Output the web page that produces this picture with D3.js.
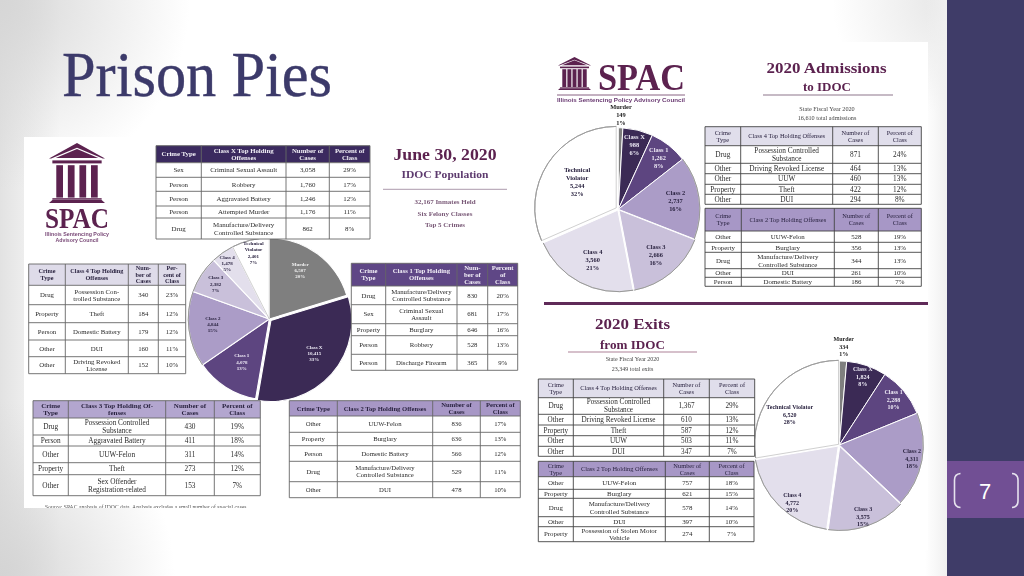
<!DOCTYPE html>
<html><head><meta charset="utf-8">
<script src="https://cdn.jsdelivr.net/npm/d3@7/dist/d3.min.js"></script>
<style>html,body{margin:0;padding:0;background:#fff;overflow:hidden}svg{display:block}</style>
</head><body><svg id="c" width="1024" height="576" viewBox="0 0 1024 576"></svg>
<script>
// ---------- DATA ----------
const classes = ["Murder","Class X","Class 1","Class 2","Class 3","Class 4","Technical Violator"];
const populationCases = [6507,10415,4078,4844,2382,1478,2401];
const populationPct = ["20%","33%","13%","15%","7%","5%","7%"];
const admissionCases = [149,988,1262,2737,2666,3560,5244];
const admissionPct = ["1%","6%","8%","16%","16%","21%","32%"];
const exitCases = [334,1824,2288,4311,3575,4772,6520];
const exitPct = ["1%","8%","10%","18%","15%","20%","28%"];

const headClassX = ["Crime Type","Class X Top Holding\nOffenses","Number of\nCases","Percent of\nClass"];
const rowsClassX = [["Sex","Criminal Sexual Assault","3,058","29%"],["Person","Robbery","1,760","17%"],["Person","Aggravated Battery","1,246","12%"],["Person","Attempted Murder","1,176","11%"],["Drug","Manufacture/Delivery\nControlled Substance","862","8%"]];
const headPop4 = ["Crime\nType","Class 4 Top Holding\nOffenses","Num-\nber of\nCases","Per-\ncent of\nClass"];
const rowsPop4 = [["Drug","Possession Con-\ntrolled Substance","340","23%"],["Property","Theft","184","12%"],["Person","Domestic Battery","179","12%"],["Other","DUI","160","11%"],["Other","Driving Revoked\nLicense","152","10%"]];
const headPop1 = ["Crime\nType","Class 1 Top Holding\nOffenses","Num-\nber of\nCases","Percent\nof\nClass"];
const rowsPop1 = [["Drug","Manufacture/Delivery\nControlled Substance","830","20%"],["Sex","Criminal Sexual\nAssault","681","17%"],["Property","Burglary","646","16%"],["Person","Robbery","528","13%"],["Person","Discharge Firearm","365","9%"]];
const headPop3 = ["Crime\nType","Class 3 Top Holding Of-\nfenses","Number of\nCases","Percent of\nClass"];
const rowsPop3 = [["Drug","Possession Controlled\nSubstance","430","19%"],["Person","Aggravated Battery","411","18%"],["Other","UUW-Felon","311","14%"],["Property","Theft","273","12%"],["Other","Sex Offender\nRegistration-related","153","7%"]];
const headPop2 = ["Crime Type","Class 2 Top Holding Offenses","Number of\nCases","Percent of\nClass"];
const rowsPop2 = [["Other","UUW-Felon","836","17%"],["Property","Burglary","636","13%"],["Person","Domestic Battery","566","12%"],["Drug","Manufacture/Delivery\nControlled Substance","529","11%"],["Other","DUI","478","10%"]];
const headFlow4 = ["Crime\nType","Class 4 Top Holding Offenses","Number of\nCases","Percent of\nClass"];
const headFlow2 = ["Crime\nType","Class 2 Top Holding Offenses","Number of\nCases","Percent of\nClass"];
const rowsAdm4 = [["Drug","Possession Controlled\nSubstance","871","24%"],["Other","Driving Revoked License","464","13%"],["Other","UUW","460","13%"],["Property","Theft","422","12%"],["Other","DUI","294","8%"]];
const rowsAdm2 = [["Other","UUW-Felon","528","19%"],["Property","Burglary","356","13%"],["Drug","Manufacture/Delivery\nControlled Substance","344","13%"],["Other","DUI","261","10%"],["Person","Domestic Battery","186","7%"]];
const rowsExit4 = [["Drug","Possession Controlled\nSubstance","1,367","29%"],["Other","Driving Revoked License","610","13%"],["Property","Theft","587","12%"],["Other","UUW","503","11%"],["Other","DUI","347","7%"]];
const rowsExit2 = [["Other","UUW-Felon","757","18%"],["Property","Burglary","621","15%"],["Drug","Manufacture/Delivery\nControlled Substance","578","14%"],["Other","DUI","397","10%"],["Property","Possession of Stolen Motor\nVehicle","274","7%"]];

// ---------- STYLE / LAYOUT ----------
const sliceColors = ["#7f7f7f","#3a2a55","#5d4480","#ab9cc7","#c9c0da","#e3dfec","#ffffff"];
const labelColors = ["#f1f1f1","#eeeaf5","#eeeaf5","#2a2340","#2a2340","#2a2340","#2a2340"];
const serif = "'Liberation Serif',serif";
const sans = "'Liberation Sans',sans-serif";
const plum = "#5c2350";

const svg = d3.select("#c");
const defs = svg.append("defs");
function radial(id,cx,cy,r,c){
  const g=defs.append("radialGradient").attr("id",id).attr("gradientUnits","userSpaceOnUse").attr("cx",cx).attr("cy",cy).attr("r",r);
  g.append("stop").attr("offset",0).attr("stop-color",c);
  g.append("stop").attr("offset",1).attr("stop-color",c).attr("stop-opacity",0);
}
radial("gTL",0,0,190,"#d6d6d6");
radial("gBL",0,576,175,"#d4d4d4");
radial("gTR",947,0,115,"#e6e6e6");
const lf=defs.append("linearGradient").attr("id","gL").attr("gradientUnits","userSpaceOnUse").attr("x1",0).attr("x2",60).attr("y1",0).attr("y2",0);
lf.append("stop").attr("offset",0).attr("stop-color","#e2e2e2");
lf.append("stop").attr("offset",1).attr("stop-color","#e2e2e2").attr("stop-opacity",0);
const rf=defs.append("linearGradient").attr("id","gR").attr("gradientUnits","userSpaceOnUse").attr("x1",925).attr("x2",947).attr("y1",0).attr("y2",0);
rf.append("stop").attr("offset",0).attr("stop-color","#f0f0f0").attr("stop-opacity",0);
rf.append("stop").attr("offset",1).attr("stop-color","#f0f0f0");
defs.append("filter").attr("id","soft").attr("x","-2%").attr("y","-2%").attr("width","104%").attr("height","104%")
  .append("feGaussianBlur").attr("stdDeviation",0.32);

// background
svg.append("rect").attr("width",1024).attr("height",576).attr("fill","#fff");
["gL","gTL","gBL","gTR","gR"].forEach(id=>svg.append("rect").attr("width",947).attr("height",576).attr("fill",`url(#${id})`));
svg.append("rect").attr("x",947).attr("width",77).attr("height",576).attr("fill","#3f3c68");
svg.append("rect").attr("x",947).attr("y",461).attr("width",77).attr("height",57).attr("fill","#714f94");
svg.append("text").attr("x",985).attr("y",499).attr("text-anchor","middle").attr("font-family",sans).attr("font-size",22).attr("fill","#fff").text("7");
svg.append("path").attr("d","M960.5 473.5Q954.5 474 954.5 480V501Q954.5 507 960.5 507.5M1012 473.5Q1018 474 1018 480V501Q1018 507 1012 507.5")
  .attr("fill","none").attr("stroke","#e6e2ee").attr("stroke-width",1.6);
svg.append("text").attr("x",62).attr("y",96).attr("font-family",serif).attr("font-size",64).attr("fill","#3c3a6a")
  .attr("stroke","#3c3a6a").attr("stroke-width",0.4)
  .attr("textLength",270).attr("lengthAdjust","spacingAndGlyphs").text("Prison Pies");

// panels
const root = svg.append("g").attr("filter","url(#soft)");
root.append("rect").attr("x",24).attr("y",137).attr("width",506).attr("height",371).attr("fill","#fff");
root.append("rect").attr("x",528).attr("y",42).attr("width",400).attr("height",508).attr("fill","#fff");

function textBlock(g,x,cy,str,size,opts={}){
  const lines = Array.isArray(str)?str:String(str).split("\n");
  const lh = opts.lh||size*1.08;
  const y0 = cy-(lines.length-1)*lh/2+size*0.33;
  const t = g.append("text").attr("text-anchor","middle").attr("font-family",opts.family||serif)
    .attr("font-size",size).attr("font-weight",opts.weight||"normal").attr("fill",opts.fill||"#222");
  lines.forEach((s,i)=>t.append("tspan").attr("x",x).attr("y",y0+i*lh).text(s));
}

function pieChart(cfg){
  const g = root.append("g").attr("transform",`translate(${cfg.cx},${cfg.cy})`);
  const arcs = d3.pie().sort(null).startAngle(0).endAngle(2*Math.PI)(cfg.values);
  const arc = d3.arc().innerRadius(0).outerRadius(cfg.r);
  const rim = d3.arc().innerRadius(cfg.r).outerRadius(cfg.r);
  arcs.forEach((d,i)=>{
    const mid=(d.startAngle+d.endAngle)/2, e=cfg.explode[i]||0;
    const sg=g.append("g").attr("transform",`translate(${Math.sin(mid)*e},${-Math.cos(mid)*e})`);
    sg.append("path").attr("d",arc(d)).attr("fill",sliceColors[i]).attr("stroke","#fff").attr("stroke-width",cfg.gap);
    if(i>=3) sg.append("path").attr("d",rim(d)).attr("fill","none").attr("stroke","#8f8f8f").attr("stroke-width",0.7);
    if(i===6) sg.append("path").attr("d",arc(d)).attr("fill","none").attr("stroke","#a0a0a0").attr("stroke-width",0.5);
  });
  arcs.forEach((d,i)=>{
    const ang=(d.startAngle+d.endAngle)/2+(cfg.shift[i]||0)*Math.PI/180, rr=cfg.r*cfg.labelR[i];
    const lines = cfg.nameLines[i].concat([d3.format(",")(d.value),cfg.pct[i]]);
    textBlock(g,Math.sin(ang)*rr,-Math.cos(ang)*rr,lines,cfg.fs,{weight:"bold",fill:cfg.outside===i?"#222":labelColors[i],lh:cfg.fs*1.25});
  });
}
const twoLine = classes.map(c=>c==="Technical Violator"?["Technical","Violator"]:[c]);
pieChart({cx:269.3,cy:319,r:81,values:populationCases,pct:populationPct,explode:[0,2.2,0,0,0,0,0],gap:1.1,fs:5,
  labelR:[.71,.70,.63,.70,.79,.86,.84],shift:[-4,-4,0,2,0,-2,0],nameLines:twoLine});
pieChart({cx:618.3,cy:209.3,r:81.5,values:admissionCases,pct:admissionPct,explode:[0,0,0,0,1,1,2.5],gap:1,fs:6.4,
  labelR:[1.155,.82,.80,.71,.72,.70,.61],shift:[0,0,0,0,0,-1,1],nameLines:twoLine,outside:0});
pieChart({cx:839.3,cy:445,r:84,values:exitCases,pct:exitPct,explode:[0,0,0,0,1.5,1.5,1],gap:1,fs:6,
  labelR:[1.17,.86,.84,.88,.90,.885,.69],shift:[0,0,0,0,1,-5,-9],nameLines:classes.map(c=>[c]),outside:0});

function table(cfg){
  const g = root.append("g");
  const X=cfg.xs, Y=cfg.ys;
  g.append("rect").attr("x",X[0]).attr("y",Y[0]).attr("width",X[4]-X[0]).attr("height",Y[1]-Y[0]).attr("fill",cfg.headFill);
  g.append("rect").attr("x",X[0]).attr("y",Y[1]).attr("width",X[4]-X[0]).attr("height",Y[Y.length-1]-Y[1]).attr("fill","#fff");
  g.selectAll("line.v").data(X).join("line").attr("x1",d=>d).attr("x2",d=>d).attr("y1",Y[0]).attr("y2",Y[Y.length-1]).attr("stroke",cfg.line||"#666").attr("stroke-width",0.9);
  g.selectAll("line.h").data(Y).join("line").attr("class","hl").attr("y1",d=>d).attr("y2",d=>d).attr("x1",X[0]).attr("x2",X[4]).attr("stroke",cfg.line||"#666").attr("stroke-width",0.9);
  cfg.head.forEach((h,c)=>textBlock(g,(X[c]+X[c+1])/2,(Y[0]+Y[1])/2,h,cfg.hfs,{weight:cfg.hw||"bold",fill:cfg.hfill||"#2a2340"}));
  cfg.rows.forEach((row,r)=>row.forEach((v,c)=>textBlock(g,(X[c]+X[c+1])/2,(Y[r+1]+Y[r+2])/2,v,cfg.fs,{fill:"#2b2b2b"})));
}
const dk="#3b2c5e",mid="#5f4686",lt="#a797c6",pale="#dedbe9";
table({xs:[156,201.3,286,329.3,370],ys:[145.7,162.7,177.3,191.3,206,218,239],head:headClassX,rows:rowsClassX,headFill:dk,hfill:"#f2eff7",hfs:6.8,fs:6.9});
table({xs:[28.7,65.3,128.3,158.3,185.7],ys:[264,285.3,304.7,322.7,340,356.7,373.7],head:headPop4,rows:rowsPop4,headFill:pale,hfs:6.2,fs:6.8});
table({xs:[351.3,385.7,457,487.7,517.7],ys:[263.3,286,304.7,323.7,335.7,354.3,370.3],head:headPop1,rows:rowsPop1,headFill:mid,hfill:"#f2eff7",hfs:6.7,fs:6.8});
table({xs:[33,68.3,165.7,214.3,260.3],ys:[400.7,418,435,446,462.7,474.7,495.7],head:headPop3,rows:rowsPop3,headFill:"#b3a6cf",hfs:7,fs:7.3});
table({xs:[289.3,337.3,432.7,480.3,520.3],ys:[400.7,416,432.3,445.7,461.3,481.7,497.7],head:headPop2,rows:rowsPop2,headFill:lt,hfs:6.6,fs:6.7});
table({xs:[705,740.7,832.7,878.3,921.3],ys:[126.7,145.7,163.3,173.7,184.3,194.3,204.3],head:headFlow4,rows:rowsAdm4,headFill:"#e0deeb",hw:"normal",hfs:6.4,fs:7.3,line:"#444"});
table({xs:[705,741.3,834.3,878.3,921.3],ys:[208.3,231,242.3,252.3,268.7,277.3,286.3],head:headFlow2,rows:rowsAdm2,headFill:lt,hw:"normal",hfs:6.4,fs:6.9,line:"#444"});
table({xs:[538.3,573.3,663.7,709.3,754.7],ys:[379,397.7,414.3,425,435.7,446.3,456.3],head:headFlow4,rows:rowsExit4,headFill:"#e0deeb",hw:"normal",hfs:6.4,fs:7.2,line:"#444"});
table({xs:[538.3,573.3,665.3,709.3,754],ys:[461.3,476.7,489.3,498.3,516.7,526.7,541.7],head:headFlow2,rows:rowsExit2,headFill:lt,hw:"normal",hfs:6.4,fs:6.9,line:"#444"});

// headings
function head(x,y,str,size,len,opts={}){
  root.append("text").attr("x",x).attr("y",y).attr("text-anchor","middle").attr("font-family",opts.family||serif)
   .attr("font-size",size).attr("font-weight",opts.weight||"bold").attr("fill",opts.fill||plum)
   .attr("textLength",len||null).attr("lengthAdjust",len?"spacingAndGlyphs":null).text(str);
}
function rule(x1,x2,y,w,c){root.append("line").attr("x1",x1).attr("x2",x2).attr("y1",y).attr("y2",y).attr("stroke",c).attr("stroke-width",w);}
head(445,160,"June 30, 2020",17.5,103);
head(445,178,"IDOC Population",11,87,{fill:"#5d3a6e"});
rule(383,507,189.3,0.7,"#8a6f88");
head(445,203.5,"32,167 Inmates Held",7,null,{fill:"#7a5a78"});
head(445,215.5,"Six Felony Classes",7,null,{fill:"#7a5a78"});
head(445,226.5,"Top 5 Crimes",7,null,{fill:"#7a5a78"});
head(826.5,72.7,"2020 Admissions",14.5,120);
head(827,90.7,"to IDOC",12.5,48);
rule(763,893,95,0.7,"#5c3a5a");
head(827,111,"State Fiscal Year 2020",6.2,null,{weight:"normal",fill:"#444"});
head(827,120,"16,610 total admissions",6.2,null,{weight:"normal",fill:"#444"});
head(632.5,329,"2020 Exits",15,75);
head(632.5,348.7,"from IDOC",12.5,65);
rule(568,697,352,0.7,"#8a4a6a");
head(632.5,361,"State Fiscal Year 2020",6,null,{weight:"normal",fill:"#444"});
head(632.5,371,"23,349 total exits",6,null,{weight:"normal",fill:"#444"});
rule(544,928,303.5,3,"#5f2a58");

// logos
function building(x,y,w,h,cols){
  const l=root.append("g").attr("transform",`translate(${x},${y}) scale(${w/100},${h/100})`).attr("fill",plum);
  l.append("polygon").attr("points","0,26 50,0 100,26 96,26 50,8 4,26");
  l.append("polygon").attr("points","12,25 50,10 88,25");
  l.append("rect").attr("x",6).attr("y",29).attr("width",88).attr("height",5);
  d3.range(cols).forEach(i=>l.append("rect").attr("x",13+i*(74-12)/(cols-1)).attr("y",37).attr("width",12).attr("height",54));
  l.append("rect").attr("x",6).attr("y",92).attr("width",88).attr("height",2.5);
  l.append("polygon").attr("points","0,100 6,95 94,95 100,100");
}
building(49,143,56,60,4);
head(77,228,"SPAC",29,64,{fill:plum});
head(77,236,"Illinois Sentencing Policy",5.2,64,{family:sans,fill:"#7a4a78"});
head(77,241.5,"Advisory Council",5.2,43,{family:sans,fill:"#7a4a78"});
building(558,57,33,33,5);
head(641.5,90,"SPAC",38,87,{fill:plum});
rule(557,685,95,0.8,"#6a3a62");
head(621,102,"Illinois Sentencing Policy Advisory Council",5.4,128,{family:sans,fill:"#6a3a72"});

// source note, cut by the panel edge
const clip=defs.append("clipPath").attr("id","cl");
clip.append("rect").attr("x",24).attr("y",137).attr("width",506).attr("height",371);
root.append("g").attr("clip-path","url(#cl)").append("text").attr("x",45).attr("y",508.8).attr("font-family",serif).attr("font-size",5.6).attr("fill","#555")
  .attr("textLength",203).text("Source: SPAC analysis of IDOC data. Analysis excludes a small number of special cases.");
</script></body></html>
